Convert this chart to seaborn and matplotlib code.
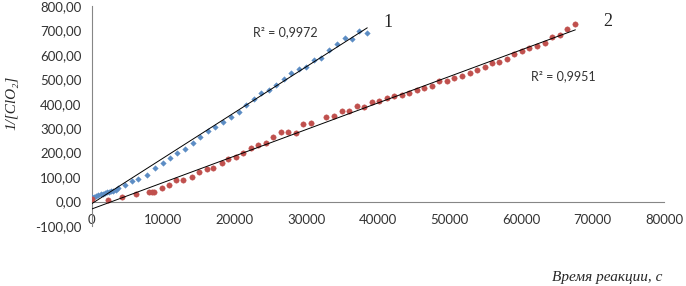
import numpy as np
import pandas as pd
import seaborn as sns
from matplotlib import pyplot as plt

# series 1 (blue), time in s and 1/[ClO2]
t1 = [0, 300, 600, 900, 1200, 1500, 1800, 2100, 2400, 2700, 3000, 3300, 3600,
      4600, 5600, 6500, 7700, 8800, 9900, 10900, 11900, 13000, 14100, 15100,
      16200, 17200, 18300, 19400, 20600, 21600, 22700, 23700, 24800, 25800,
      26900, 27900, 29000, 30000, 31000, 32100, 33100, 34300, 35400, 36400,
      37300, 38500]
c1 = [17, 20, 24, 27, 30, 32, 35, 38, 40, 42, 45, 48, 55,
      69, 82, 94, 110, 139, 159, 180, 200, 216, 241, 265,
      290, 306, 327, 347, 367, 395, 420, 445, 457, 478,
      502, 526, 543, 551, 580, 588, 620, 645, 669, 665,
      698, 690]

# series 2 (red)
t2 = [0, 2200, 4200, 6200, 8000, 8400, 8700, 9800, 10800, 11700, 12700, 14000,
      15000, 16100, 16900, 18200, 19000, 20100, 21100, 22200, 23200, 24300,
      25300, 26400, 27400, 28500, 29500, 30600, 32700, 33800, 34900, 35900,
      37000, 38000, 39100, 40100, 41200, 42200, 43300, 44300, 45400, 46400,
      47500, 48500, 49600, 50600, 51700, 52800, 53800, 54900, 55900, 56900,
      58000, 59000, 60100, 61100, 62200, 63300, 64300, 65400, 66400, 67600]
c2 = [12, 8, 20, 29, 37, 37, 39, 55, 66, 86, 90, 102,
      122, 131, 139, 159, 175, 184, 200, 218, 231, 241,
      265, 286, 286, 282, 318, 322, 347, 351, 371, 371,
      392, 388, 408, 412, 424, 433, 437, 445, 457, 465,
      473, 494, 494, 506, 514, 527, 539, 551, 567, 571,
      584, 604, 616, 628, 637, 649, 673, 682, 706, 726]

r2_labels = ['R² = 0,9972', 'R² = 0,9951']
curve_labels = ['1', '2']
x_ticks = [0, 10000, 20000, 30000, 40000, 50000, 60000, 70000, 80000]
y_ticks = [-100, 0, 100, 200, 300, 400, 500, 600, 700, 800]

df1 = pd.DataFrame({'t': t1, 'c': c1})
df2 = pd.DataFrame({'t': t2, 'c': c2})

sns.set_style('white')
plt.rcParams['font.family'] = ['Lato', 'DejaVu Sans']

fig = plt.figure(figsize=(6.86, 2.86), dpi=100)
ax = fig.add_axes([0.134, 0.21, 0.834, 0.769])

sns.scatterplot(data=df1, x='t', y='c', ax=ax, marker='D', s=8,
                color='#5B8CC4', edgecolor='#5B8CC4', linewidth=0.3, zorder=3)
sns.scatterplot(data=df2, x='t', y='c', ax=ax, marker='o', s=15,
                color='#C0504D', edgecolor='#C0504D', linewidth=0.3, zorder=3)
sns.regplot(data=df1, x='t', y='c', ax=ax, scatter=False, ci=None, truncate=True,
            line_kws={'color': 'black', 'lw': 0.7, 'zorder': 4})
sns.regplot(data=df2, x='t', y='c', ax=ax, scatter=False, ci=None, truncate=True,
            line_kws={'color': 'black', 'lw': 0.7, 'zorder': 4})

ax.set_xlim(0, 80000)
ax.set_ylim(-100, 800)
ax.set_xticks(x_ticks)
ax.set_xticklabels([str(v) for v in x_ticks])
ax.set_yticks(y_ticks)
ax.set_yticklabels([f'{v:.2f}'.replace('.', ',') for v in y_ticks])

ax.spines['top'].set_visible(False)
ax.spines['right'].set_visible(False)
ax.spines['bottom'].set_position(('data', 0))
for s in ['left', 'bottom']:
    ax.spines[s].set_color('#868686')
    ax.spines[s].set_linewidth(0.8)
ax.tick_params(axis='both', colors='#868686', labelcolor='#333333',
               labelsize=9.5, length=4, width=0.8, direction='out')
ax.tick_params(axis='x', pad=5)
ax.set_xlabel('')
ax.set_ylabel('')

serif = ['Liberation Serif', 'DejaVu Serif']
fig.text(0.018, 0.64, '1/[ClO₂]', rotation=90, ha='center', va='center',
         family=serif, style='italic', fontsize=11)
fig.text(0.966, 0.031, 'Время реакции, с', ha='right', va='center',
         family=serif, style='italic', fontsize=11)

ax.text(0.281, 0.882, r2_labels[0], transform=ax.transAxes, fontsize=9,
        color='#333333', va='center')
ax.text(0.767, 0.682, r2_labels[1], transform=ax.transAxes, fontsize=9,
        color='#333333', va='center')
ax.text(0.509, 0.927, curve_labels[0], transform=ax.transAxes, fontsize=13,
        family=serif, va='center')
ax.text(0.893, 0.93, curve_labels[1], transform=ax.transAxes, fontsize=13,
        family=serif, va='center')

fig.savefig('out.png', dpi=100)
